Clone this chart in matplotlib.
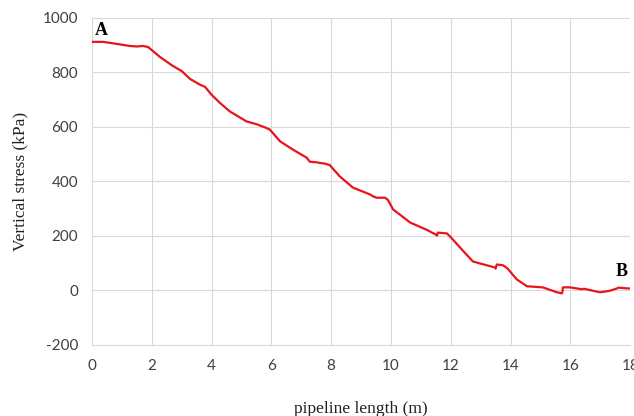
import matplotlib
matplotlib.use("Agg")
import matplotlib.pyplot as plt

plt.rcParams['axes.unicode_minus'] = False

# pipeline length (m) and vertical stress (kPa)
length_m = [0, 0.37, 0.8, 1.27, 1.5, 1.7, 1.88, 2.27, 2.7, 3.0, 3.28, 3.61, 3.78,
            4.0, 4.28, 4.62, 5.17, 5.5, 5.79, 5.95, 6.29, 6.73, 7.18, 7.29, 7.5,
            7.79, 7.95, 8.29, 8.73, 9.30, 9.4, 9.53, 9.80, 9.9, 10.07, 10.3, 10.64,
            11.24, 11.37, 11.5, 11.54, 11.57, 11.87, 12.0, 12.37, 12.74, 13.0, 13.48,
            13.5, 13.54, 13.75, 13.9, 14.21, 14.55, 15.08, 15.55, 15.72, 15.74, 15.75,
            15.99, 16.39, 16.45, 16.99, 17.3, 17.56, 17.6, 17.93, 18.0]
stress_kpa = [912, 912, 905, 897, 895, 897, 893, 857, 824, 805, 776, 755, 747,
              718, 688, 656, 620, 610, 598, 590, 547, 516, 487, 472, 470,
              465, 460, 418, 377, 352, 345, 340, 340, 332, 297, 278, 249,
              220, 212, 205, 201, 212, 209, 195, 150, 106, 98, 84,
              80, 95, 92, 80, 40, 15, 11, -7, -11, 0, 11,
              11, 4, 6, -7, -2, 7, 10, 7, 7]

x_ticks = list(range(0, 19, 2))
y_ticks = list(range(-200, 1001, 200))

fig = plt.figure(figsize=(6.34, 4.16), dpi=100)
ax = fig.add_axes([0.145, 0.171, 0.849, 0.786])

ax.plot(length_m, stress_kpa, color='#e8141b', linewidth=1.6, zorder=3)

ax.set_xlim(0, 18)
ax.set_ylim(-200, 1000)
ax.set_xticks(x_ticks)
ax.set_yticks(y_ticks)
ax.grid(True, color='#d9d9d9', linewidth=0.8)
ax.set_axisbelow(True)

for side in ['top', 'right']:
    ax.spines[side].set_visible(False)
for side in ['left', 'bottom']:
    ax.spines[side].set_color('#d9d9d9')
    ax.spines[side].set_linewidth(0.8)

ax.tick_params(length=0, pad=10, labelsize=11, labelcolor='#404040')
for lbl in ax.get_xticklabels() + ax.get_yticklabels():
    lbl.set_family('Lato')

ax.set_xlabel('pipeline length (m)', family='Liberation Serif', fontsize=12.5,
              color='#222222', labelpad=20)
ax.set_ylabel('Vertical stress (kPa)', family='Liberation Serif', fontsize=12.5,
              color='#222222', labelpad=10)

ax.text(0.1, 955, 'A', family='Liberation Serif', fontsize=13, fontweight='bold',
        va='center', ha='left')
ax.text(17.7, 70, 'B', family='Liberation Serif', fontsize=13, fontweight='bold',
        va='center', ha='center')

fig.savefig('out.png', dpi=100)
